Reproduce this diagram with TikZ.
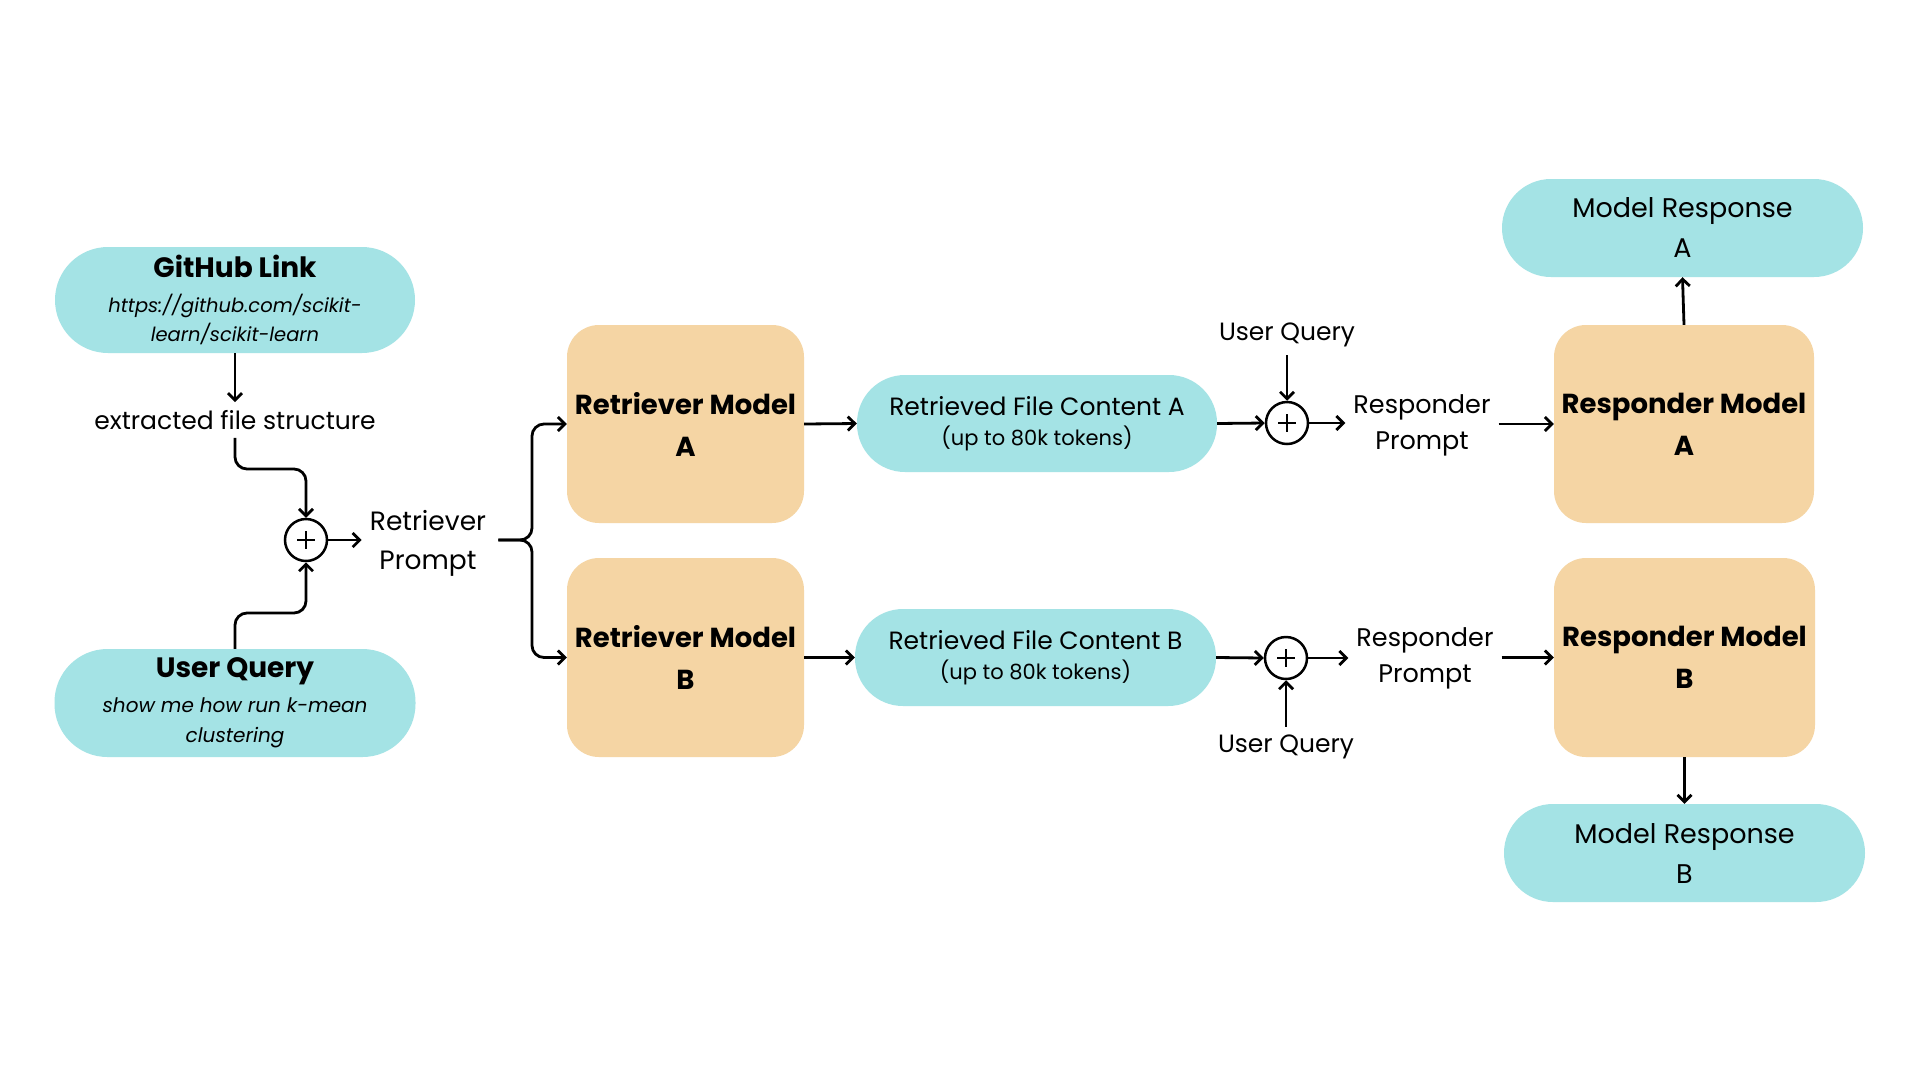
\documentclass[tikz,border=0pt]{standalone}
\usepackage{fontspec}
\setmainfont{Poppins}
\usetikzlibrary{arrows.meta,calc}
\definecolor{pillc}{HTML}{A4E3E5}
\definecolor{boxc}{HTML}{F5D5A4}
\begin{document}
\begin{tikzpicture}[x=1pt,y=-1pt,
  pill/.style={fill=pillc, rounded corners=48pt, minimum width=360pt, minimum height=97pt, inner sep=0pt, align=center},
  bigpill/.style={pill, rounded corners=53pt, minimum height=106pt},
  model/.style={fill=boxc, rounded corners=32pt, minimum height=198pt, inner sep=0pt, align=center, font=\fontsize{27.5}{42}\selectfont\bfseries},
  lbl/.style={inner sep=8pt, align=center, font=\fontsize{25}{36}\selectfont},
  arr/.style={line width=2.8pt, -{Straight Barb[length=7pt,width=14pt,line width=2.8pt]}},
  plus/.style={circle, draw, line width=2.5pt, minimum size=42pt, inner sep=0pt,
    path picture={\draw[line width=2.5pt] ($(path picture bounding box.center)+(-9,0)$) -- ++(18,0);
                  \draw[line width=2.5pt] ($(path picture bounding box.center)+(0,-9)$) -- ++(0,18);}}
]
\useasboundingbox (0,0) rectangle (1920,1080);
\fill[white] (0,0) rectangle (1920,1080);

% left inputs
\node[bigpill, font=\fontsize{19.5}{29}\selectfont] (gh) at (235,300)
  {{\fontsize{28}{29}\selectfont\bfseries GitHub Link}\\[6pt]{\itshape https://github.com/scikit-}\\{\itshape learn/scikit-learn}};
\node[lbl] (efs) at (235,420) {extracted file structure};
\node[bigpill, minimum width=361pt, minimum height=108pt, font=\fontsize{20}{30}\selectfont] (uq) at (235,703)
  {{\fontsize{28}{30}\selectfont\bfseries User Query}\\[5pt]{\itshape show me how run k-mean}\\{\itshape clustering}};
\node[plus] (p1) at (306,540) {};
\node[lbl, font=\fontsize{26.5}{39}\selectfont] (rp) at (428,543) {Retriever\\Prompt};

\draw[arr] (gh) -- (efs);
\draw[arr, rounded corners=12pt] (efs.south) -- (235,469) -| (p1.north);
\draw[arr, rounded corners=12pt] (uq.north) -- (235,613) -| (p1.south);
\draw[arr] (p1.east) -- (p1.east -| rp.west);

% retriever models
\node[model, minimum width=237pt] (ra) at (685.5,424) {Retriever Model\\A};
\node[model, minimum width=237pt, minimum height=199pt] (rb) at (685.5,657.5) {Retriever Model\\B};
\draw[arr, rounded corners=12pt] ([xshift=4pt]rp.east |- p1.east) -- (532,540) |- (ra.west);
\draw[arr, rounded corners=12pt] ([xshift=4pt]rp.east |- p1.east) -- (532,540) |- (rb.west);

% retrieved content
\node[pill, font=\fontsize{21}{30}\selectfont] (fa) at (1037,423.5)
  {{\fontsize{25}{30}\selectfont Retrieved File Content A}\\(up to 80k tokens)};
\node[pill, minimum width=361pt, font=\fontsize{21}{30}\selectfont] (fb) at (1035.5,657.5)
  {{\fontsize{25}{30}\selectfont Retrieved File Content B}\\(up to 80k tokens)};
\draw[arr] (ra.east) -- (fa.west);
\draw[arr] (rb.east) -- (fb.west);

\node[plus] (pa) at (1287,423) {};
\node[plus] (pb) at (1286,658) {};
\node[lbl] (uqa) at (1287,335) {User Query};
\node[lbl] (uqb) at (1286,747) {User Query};
\draw[arr] (fa.east) -- (pa.west);
\draw[arr] (fb.east) -- (pb.west);
\draw[arr] (uqa.south) -- (pa.north);
\draw[arr] (uqb.north) -- (pb.south);

\node[lbl, font=\fontsize{25.5}{36}\selectfont] (rpa) at (1422,425) {Responder\\Prompt};
\node[lbl, font=\fontsize{25.5}{36}\selectfont] (rpb) at (1425,658) {Responder\\Prompt};
\draw[arr] (pa.east) -- (pa.east -| rpa.west);
\draw[arr] (pb.east) -- (pb.east -| rpb.west);

% responder models
\node[model, minimum width=260pt] (sa) at (1684,424) {Responder Model\\A};
\node[model, minimum width=261pt, minimum height=199pt] (sb) at (1684.5,657.5) {Responder Model\\B};
\draw[arr] (sa.west -| rpa.east) -- (sa.west);
\draw[arr] (sb.west -| rpb.east) -- (sb.west);

\node[pill, minimum width=361pt, minimum height=98pt, rounded corners=49pt, font=\fontsize{27}{40}\selectfont] (ma) at (1682.5,228) {Model Response\\A};
\node[pill, minimum width=361pt, minimum height=98pt, rounded corners=49pt, font=\fontsize{27}{40}\selectfont] (mb) at (1684.5,853) {Model Response\\B};
\draw[arr] (sa.north) -- (ma.south);
\draw[arr] (sb.south) -- (mb.north);
\end{tikzpicture}
\end{document}
